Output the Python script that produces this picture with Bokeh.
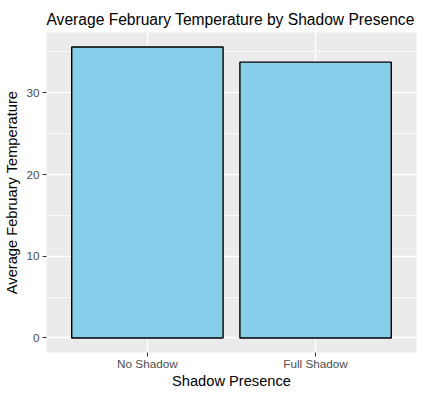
from bokeh.plotting import figure
from bokeh.models import ColumnDataSource, FactorRange, Range1d, FixedTicker
from bokeh.embed import file_html
from bokeh.resources import INLINE

# ---- data ----
categories = ["No Shadow", "Full Shadow"]
avg_temp = [35.6, 33.75]
y_ticks = [0, 10, 20, 30]
y_minor_ticks = [5, 15, 25, 35]

title_text = "Average February Temperature by Shadow Presence"
x_title = "Shadow Presence"
y_title = "Average February Temperature"

FONT = "Liberation Sans"
ymax = max(avg_temp)

src = ColumnDataSource(data=dict(cat=categories, val=avg_temp))

p = figure(
    width=424, height=396,
    x_range=FactorRange(factors=categories, range_padding=0.1, range_padding_units="absolute"),
    y_range=Range1d(-0.05 * ymax, 1.05 * ymax),
    output_backend="svg", toolbar_location=None,
    title=title_text,
    min_border_left=46, min_border_right=8, min_border_top=32, min_border_bottom=44,
)

p.background_fill_color = "#EBEBEB"
p.border_fill_color = "white"
p.outline_line_color = None

p.vbar(x="cat", top="val", bottom=0, width=0.9, source=src,
       fill_color="#87CEEB", line_color="black", line_width=1.4)

# title
p.title.text_font = FONT
p.title.text_font_size = "15.6px"
p.title.text_font_style = "normal"
p.title.text_color = "black"
p.title.align = "left"
p.title.standoff = 9

# grids
p.xgrid.grid_line_color = "white"
p.xgrid.grid_line_width = 1.4
p.ygrid.grid_line_color = "white"
p.ygrid.grid_line_width = 1.4
p.ygrid.minor_grid_line_color = "white"
p.ygrid.minor_grid_line_width = 0.7

# axes
p.yaxis.ticker = FixedTicker(ticks=y_ticks, minor_ticks=y_minor_ticks)
for ax in (p.xaxis[0], p.yaxis[0]):
    ax.axis_line_color = None
    ax.major_tick_in = 0
    ax.major_tick_out = 4
    ax.minor_tick_in = 0
    ax.minor_tick_out = 0
    ax.major_tick_line_color = "#333333"
    ax.major_tick_line_width = 1.1
    ax.major_label_text_font = FONT
    ax.major_label_text_font_size = "11.73px"
    ax.major_label_text_color = "#4D4D4D"
    ax.axis_label_text_font = FONT
    ax.axis_label_text_font_size = "14.67px"
    ax.axis_label_text_font_style = "normal"
    ax.axis_label_text_color = "black"

p.xaxis.axis_label = x_title
p.yaxis.axis_label = y_title
p.xaxis.major_label_standoff = 0
p.xaxis.axis_label_standoff = 0
p.yaxis.major_label_standoff = 3
p.yaxis.axis_label_standoff = 3

open("out.html", "w").write(file_html(p, INLINE))
